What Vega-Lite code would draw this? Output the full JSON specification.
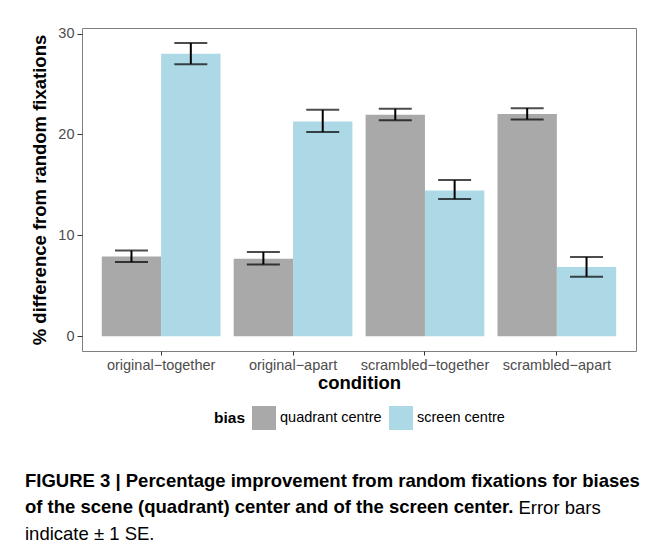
{
  "$schema": "https://vega.github.io/schema/vega-lite/v6.json",
  "autosize": {"type": "none"},
  "padding": {"left": 82, "top": 28, "right": 25, "bottom": 197},
  "width": 554,
  "height": 323,
  "background": "white",
  "data": {
    "values": [
      {"condition": "original−together", "bias": "quadrant centre", "mean": 7.92, "lo": 7.37, "hi": 8.51},
      {"condition": "original−together", "bias": "screen centre", "mean": 27.99, "lo": 26.97, "hi": 29.06},
      {"condition": "original−apart", "bias": "quadrant centre", "mean": 7.69, "lo": 7.13, "hi": 8.36},
      {"condition": "original−apart", "bias": "screen centre", "mean": 21.29, "lo": 20.24, "hi": 22.44},
      {"condition": "scrambled−together", "bias": "quadrant centre", "mean": 21.95, "lo": 21.42, "hi": 22.55},
      {"condition": "scrambled−together", "bias": "screen centre", "mean": 14.46, "lo": 13.6, "hi": 15.49},
      {"condition": "scrambled−apart", "bias": "quadrant centre", "mean": 22.02, "lo": 21.49, "hi": 22.61},
      {"condition": "scrambled−apart", "bias": "screen centre", "mean": 6.87, "lo": 5.91, "hi": 7.86}
    ]
  },
  "title": {
    "text": ["FIGURE 3 | Percentage improvement from random fixations for biases", "of the scene (quadrant) center and of the screen center."],
    "subtitle": ["\u200b\u00a0\u00a0\u00a0\u00a0\u00a0\u00a0\u00a0\u00a0\u00a0\u00a0\u00a0\u00a0\u00a0\u00a0\u00a0\u00a0\u00a0\u00a0\u00a0\u00a0\u00a0\u00a0\u00a0\u00a0\u00a0\u00a0\u00a0\u00a0\u00a0\u00a0\u00a0\u00a0\u00a0\u00a0\u00a0\u00a0\u00a0\u00a0\u00a0\u00a0\u00a0\u00a0\u00a0\u00a0\u00a0\u00a0\u00a0\u00a0\u00a0\u00a0\u00a0\u00a0\u00a0\u00a0\u00a0\u00a0\u00a0\u00a0\u00a0\u00a0\u00a0\u00a0\u00a0\u00a0\u00a0\u00a0\u00a0\u00a0\u00a0\u00a0\u00a0\u00a0\u00a0\u00a0\u00a0\u00a0\u00a0\u00a0\u00a0\u00a0\u00a0\u00a0\u00a0\u00a0\u00a0\u00a0\u00a0\u00a0\u00a0\u00a0\u00a0\u00a0\u00a0\u00a0\u00a0\u00a0Error bars", "indicate ± 1 SE."],
    "orient": "bottom",
    "anchor": "start",
    "frame": "group",
    "offset": 42,
    "dx": -57,
    "font": "Liberation Sans",
    "fontSize": 18.5,
    "fontWeight": "bold",
    "color": "#000000",
    "lineHeight": 26,
    "subtitleFont": "Liberation Sans",
    "subtitleFontSize": 18.5,
    "subtitleFontWeight": "normal",
    "subtitleColor": "#000000",
    "subtitleLineHeight": 26,
    "subtitlePadding": -18
  },
  "encoding": {
    "x": {
      "field": "condition",
      "type": "nominal",
      "sort": null,
      "title": "condition",
      "scale": {"paddingInner": 0.1, "paddingOuter": 0.15},
      "axis": {
        "labelAngle": 0,
        "labelFont": "Liberation Sans",
        "labelFontSize": 14.5,
        "labelColor": "#4d4d4d",
        "labelPadding": 3,
        "tickSize": 4,
        "tickColor": "#333333",
        "tickWidth": 1,
        "domain": false,
        "titleFont": "Liberation Sans",
        "titleFontSize": 18.5,
        "titleFontWeight": "bold",
        "titleColor": "#000000",
        "titlePadding": 2
      }
    },
    "xOffset": {
      "field": "bias",
      "type": "nominal",
      "scale": {"paddingInner": 0, "paddingOuter": 0}
    }
  },
  "layer": [
    {
      "mark": {"type": "bar"},
      "encoding": {
        "y": {
          "field": "mean",
          "type": "quantitative",
          "title": "% difference from random fixations",
          "scale": {"domain": [-1.45, 30.55], "nice": false, "zero": false},
          "axis": {
            "values": [0, 10, 20, 30],
            "grid": false,
            "domain": false,
            "labelFont": "Liberation Sans",
            "labelFontSize": 14.5,
            "labelColor": "#4d4d4d",
            "labelPadding": 3,
            "tickSize": 5,
            "tickColor": "#333333",
            "tickWidth": 1,
            "titleFont": "Liberation Sans",
            "titleFontSize": 18.5,
            "titleFontWeight": "bold",
            "titleColor": "#000000",
            "titlePadding": 8
          }
        },
        "color": {
          "field": "bias",
          "type": "nominal",
          "scale": {"domain": ["quadrant centre", "screen centre"], "range": ["#a9a9a9", "#add8e6"]},
          "legend": {
            "orient": "bottom",
            "direction": "horizontal",
            "titleOrient": "left",
            "title": "bias",
            "symbolType": "square",
            "symbolSize": 576,
            "symbolStrokeWidth": 0,
            "symbolOpacity": 1,
            "labelFont": "Liberation Sans",
            "labelFontSize": 14.5,
            "labelColor": "#000000",
            "labelOffset": 4,
            "columnPadding": 7,
            "titleFont": "Liberation Sans",
            "titleFontSize": 15.5,
            "titleFontWeight": "bold",
            "titleColor": "#000000",
            "titlePadding": 6,
            "offset": 14
          }
        }
      }
    },
    {
      "mark": {"type": "rule", "color": "#000000", "strokeWidth": 2},
      "encoding": {
        "y": {"field": "lo", "type": "quantitative"},
        "y2": {"field": "hi"}
      }
    },
    {
      "mark": {"type": "tick", "color": "#000000", "thickness": 2, "size": 33, "orient": "horizontal"},
      "encoding": {"y": {"field": "lo", "type": "quantitative"}}
    },
    {
      "mark": {"type": "tick", "color": "#000000", "thickness": 2, "size": 33, "orient": "horizontal"},
      "encoding": {"y": {"field": "hi", "type": "quantitative"}}
    }
  ],
  "config": {
    "view": {"stroke": "#7f7f7f", "strokeWidth": 1},
    "legend": {"layout": {"anchor": "middle"}}
  }
}
